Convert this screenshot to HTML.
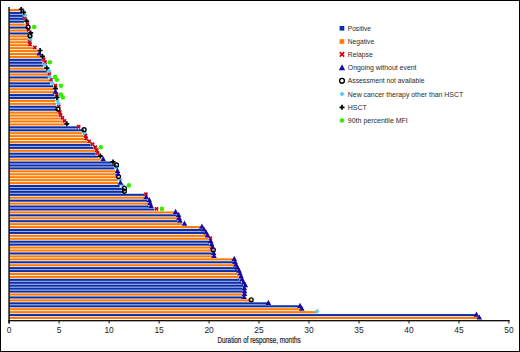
<!DOCTYPE html>
<html><head><meta charset="utf-8"><style>
html,body{margin:0;padding:0;background:#fff;}
svg{display:block;font-family:"Liberation Sans",sans-serif;}
</style></head><body>
<svg width="520" height="352" viewBox="0 0 520 352">
<rect x="0" y="0" width="520" height="352" fill="#fff"/>
<rect x="9.0" y="316.07" width="466.8" height="0.93" fill="#f3e2d8"/>
<rect x="9.0" y="313.13" width="307.0" height="0.93" fill="#f3e2d8"/>
<rect x="9.0" y="310.20" width="291.5" height="0.93" fill="#fff4ea"/>
<rect x="9.0" y="307.27" width="289.5" height="0.93" fill="#f3e2d8"/>
<rect x="9.0" y="304.33" width="258.5" height="0.93" fill="#a0b4eb"/>
<rect x="9.0" y="301.40" width="240.2" height="0.93" fill="#f3e2d8"/>
<rect x="9.0" y="298.47" width="233.0" height="0.93" fill="#f3e2d8"/>
<rect x="9.0" y="295.53" width="233.0" height="0.93" fill="#f3e2d8"/>
<rect x="9.0" y="292.60" width="233.3" height="0.93" fill="#f3e2d8"/>
<rect x="9.0" y="289.67" width="233.3" height="0.93" fill="#a0b4eb"/>
<rect x="9.0" y="286.73" width="233.3" height="0.93" fill="#a0b4eb"/>
<rect x="9.0" y="283.80" width="232.0" height="0.93" fill="#a0b4eb"/>
<rect x="9.0" y="280.87" width="230.5" height="0.93" fill="#a0b4eb"/>
<rect x="9.0" y="277.93" width="229.5" height="0.93" fill="#f3e2d8"/>
<rect x="9.0" y="275.00" width="228.7" height="0.93" fill="#fff4ea"/>
<rect x="9.0" y="272.07" width="228.0" height="0.93" fill="#f3e2d8"/>
<rect x="9.0" y="269.13" width="227.0" height="0.93" fill="#a0b4eb"/>
<rect x="9.0" y="266.20" width="225.7" height="0.93" fill="#f3e2d8"/>
<rect x="9.0" y="263.27" width="224.0" height="0.93" fill="#f3e2d8"/>
<rect x="9.0" y="260.33" width="224.0" height="0.93" fill="#f3e2d8"/>
<rect x="9.0" y="257.40" width="203.0" height="0.93" fill="#fff4ea"/>
<rect x="9.0" y="254.47" width="202.6" height="0.93" fill="#f3e2d8"/>
<rect x="9.0" y="251.53" width="202.6" height="0.93" fill="#f3e2d8"/>
<rect x="9.0" y="248.60" width="202.0" height="0.93" fill="#fff4ea"/>
<rect x="9.0" y="245.67" width="200.0" height="0.93" fill="#f3e2d8"/>
<rect x="9.0" y="242.73" width="200.0" height="0.93" fill="#a0b4eb"/>
<rect x="9.0" y="239.80" width="199.0" height="0.93" fill="#f3e2d8"/>
<rect x="9.0" y="236.87" width="197.0" height="0.93" fill="#fff4ea"/>
<rect x="9.0" y="233.93" width="195.0" height="0.93" fill="#f3e2d8"/>
<rect x="9.0" y="231.00" width="192.9" height="0.93" fill="#a0b4eb"/>
<rect x="9.0" y="228.07" width="191.2" height="0.93" fill="#f3e2d8"/>
<rect x="9.0" y="225.13" width="173.3" height="0.93" fill="#fff4ea"/>
<rect x="9.0" y="222.20" width="168.6" height="0.93" fill="#f3e2d8"/>
<rect x="9.0" y="219.27" width="168.3" height="0.93" fill="#f3e2d8"/>
<rect x="9.0" y="216.33" width="167.6" height="0.93" fill="#f3e2d8"/>
<rect x="9.0" y="213.40" width="164.9" height="0.93" fill="#f3e2d8"/>
<rect x="9.0" y="210.47" width="145.4" height="0.93" fill="#f3e2d8"/>
<rect x="9.0" y="207.53" width="139.6" height="0.93" fill="#a0b4eb"/>
<rect x="9.0" y="204.60" width="139.3" height="0.93" fill="#f3e2d8"/>
<rect x="9.0" y="201.67" width="138.0" height="0.93" fill="#f3e2d8"/>
<rect x="9.0" y="198.73" width="135.2" height="0.93" fill="#f3e2d8"/>
<rect x="9.0" y="195.80" width="135.2" height="0.93" fill="#f3e2d8"/>
<rect x="9.0" y="192.87" width="112.7" height="0.93" fill="#a0b4eb"/>
<rect x="9.0" y="189.93" width="112.0" height="0.93" fill="#a0b4eb"/>
<rect x="9.0" y="187.00" width="110.7" height="0.93" fill="#a0b4eb"/>
<rect x="9.0" y="184.07" width="109.3" height="0.93" fill="#f3e2d8"/>
<rect x="9.0" y="181.13" width="109.0" height="0.93" fill="#fff4ea"/>
<rect x="9.0" y="178.20" width="107.5" height="0.93" fill="#fff4ea"/>
<rect x="9.0" y="175.27" width="107.0" height="0.93" fill="#fff4ea"/>
<rect x="9.0" y="172.33" width="106.1" height="0.93" fill="#fff4ea"/>
<rect x="9.0" y="169.40" width="105.4" height="0.93" fill="#f3e2d8"/>
<rect x="9.0" y="166.47" width="104.7" height="0.93" fill="#a0b4eb"/>
<rect x="9.0" y="163.53" width="102.7" height="0.93" fill="#a0b4eb"/>
<rect x="9.0" y="160.60" width="91.4" height="0.93" fill="#f3e2d8"/>
<rect x="9.0" y="157.67" width="89.4" height="0.93" fill="#f3e2d8"/>
<rect x="9.0" y="154.73" width="86.7" height="0.93" fill="#a0b4eb"/>
<rect x="9.0" y="151.80" width="85.7" height="0.93" fill="#f3e2d8"/>
<rect x="9.0" y="148.87" width="84.3" height="0.93" fill="#f3e2d8"/>
<rect x="9.0" y="145.93" width="81.5" height="0.93" fill="#a0b4eb"/>
<rect x="9.0" y="143.00" width="78.2" height="0.93" fill="#f3e2d8"/>
<rect x="9.0" y="140.07" width="75.1" height="0.93" fill="#fff4ea"/>
<rect x="9.0" y="137.13" width="74.4" height="0.93" fill="#fff4ea"/>
<rect x="9.0" y="134.20" width="73.4" height="0.93" fill="#fff4ea"/>
<rect x="9.0" y="131.27" width="72.7" height="0.93" fill="#f3e2d8"/>
<rect x="9.0" y="128.33" width="68.3" height="0.93" fill="#a0b4eb"/>
<rect x="9.0" y="125.40" width="55.8" height="0.93" fill="#f3e2d8"/>
<rect x="9.0" y="122.47" width="53.4" height="0.93" fill="#fff4ea"/>
<rect x="9.0" y="119.53" width="51.4" height="0.93" fill="#fff4ea"/>
<rect x="9.0" y="116.60" width="49.5" height="0.93" fill="#fff4ea"/>
<rect x="9.0" y="113.67" width="49.0" height="0.93" fill="#fff4ea"/>
<rect x="9.0" y="110.73" width="47.4" height="0.93" fill="#f3e2d8"/>
<rect x="9.0" y="107.80" width="47.4" height="0.93" fill="#a0b4eb"/>
<rect x="9.0" y="104.87" width="47.0" height="0.93" fill="#f3e2d8"/>
<rect x="9.0" y="101.93" width="46.3" height="0.93" fill="#fff4ea"/>
<rect x="9.0" y="99.00" width="46.0" height="0.93" fill="#f3e2d8"/>
<rect x="9.0" y="96.07" width="45.3" height="0.93" fill="#a0b4eb"/>
<rect x="9.0" y="93.13" width="44.4" height="0.93" fill="#f3e2d8"/>
<rect x="9.0" y="90.20" width="44.0" height="0.93" fill="#fff4ea"/>
<rect x="9.0" y="87.27" width="44.0" height="0.93" fill="#f3e2d8"/>
<rect x="9.0" y="84.33" width="41.0" height="0.93" fill="#a0b4eb"/>
<rect x="9.0" y="81.40" width="40.0" height="0.93" fill="#f3e2d8"/>
<rect x="9.0" y="78.47" width="39.0" height="0.93" fill="#f3e2d8"/>
<rect x="9.0" y="75.53" width="38.6" height="0.93" fill="#f3e2d8"/>
<rect x="9.0" y="72.60" width="37.8" height="0.93" fill="#f3e2d8"/>
<rect x="9.0" y="69.67" width="35.8" height="0.93" fill="#f3e2d8"/>
<rect x="9.0" y="66.73" width="34.0" height="0.93" fill="#f3e2d8"/>
<rect x="9.0" y="63.80" width="33.4" height="0.93" fill="#a0b4eb"/>
<rect x="9.0" y="60.87" width="32.7" height="0.93" fill="#a0b4eb"/>
<rect x="9.0" y="57.93" width="31.7" height="0.93" fill="#f3e2d8"/>
<rect x="9.0" y="55.00" width="29.3" height="0.93" fill="#fff4ea"/>
<rect x="9.0" y="52.07" width="29.3" height="0.93" fill="#fff4ea"/>
<rect x="9.0" y="49.13" width="24.0" height="0.93" fill="#fff4ea"/>
<rect x="9.0" y="46.20" width="19.6" height="0.93" fill="#fff4ea"/>
<rect x="9.0" y="43.27" width="19.3" height="0.93" fill="#fff4ea"/>
<rect x="9.0" y="40.33" width="19.3" height="0.93" fill="#fff4ea"/>
<rect x="9.0" y="37.40" width="19.0" height="0.93" fill="#fff4ea"/>
<rect x="9.0" y="34.47" width="19.0" height="0.93" fill="#f3e2d8"/>
<rect x="9.0" y="31.53" width="17.6" height="0.93" fill="#f3e2d8"/>
<rect x="9.0" y="28.60" width="16.7" height="0.93" fill="#f3e2d8"/>
<rect x="9.0" y="25.67" width="15.7" height="0.93" fill="#f3e2d8"/>
<rect x="9.0" y="22.73" width="15.0" height="0.93" fill="#f3e2d8"/>
<rect x="9.0" y="19.80" width="14.3" height="0.93" fill="#a0b4eb"/>
<rect x="9.0" y="16.87" width="14.0" height="0.93" fill="#a0b4eb"/>
<rect x="9.0" y="13.93" width="12.9" height="0.93" fill="#a0b4eb"/>
<rect x="9.0" y="11.00" width="10.2" height="0.93" fill="#f3e2d8"/>
<rect x="9.0" y="9.00" width="10.2" height="2.0" fill="#ff7a00"/>
<rect x="9.0" y="11.93" width="12.9" height="2.0" fill="#0a2ea8"/>
<rect x="9.0" y="14.87" width="14.0" height="2.0" fill="#0a2ea8"/>
<rect x="9.0" y="17.80" width="14.3" height="2.0" fill="#0a2ea8"/>
<rect x="9.0" y="20.73" width="15.0" height="2.0" fill="#0a2ea8"/>
<rect x="9.0" y="23.67" width="15.7" height="2.0" fill="#ff7a00"/>
<rect x="9.0" y="26.60" width="19.1" height="2.0" fill="#0a2ea8"/>
<rect x="9.0" y="29.53" width="17.6" height="2.0" fill="#ff7a00"/>
<rect x="9.0" y="32.47" width="19.0" height="2.0" fill="#0a2ea8"/>
<rect x="9.0" y="35.40" width="21.0" height="2.0" fill="#ff7a00"/>
<rect x="9.0" y="38.33" width="19.3" height="2.0" fill="#ff7a00"/>
<rect x="9.0" y="41.27" width="19.3" height="2.0" fill="#ff7a00"/>
<rect x="9.0" y="44.20" width="19.6" height="2.0" fill="#ff7a00"/>
<rect x="9.0" y="47.13" width="24.0" height="2.0" fill="#ff7a00"/>
<rect x="9.0" y="50.07" width="29.4" height="2.0" fill="#ff7a00"/>
<rect x="9.0" y="53.00" width="29.3" height="2.0" fill="#ff7a00"/>
<rect x="9.0" y="55.93" width="31.7" height="2.0" fill="#ff7a00"/>
<rect x="9.0" y="58.87" width="32.7" height="2.0" fill="#0a2ea8"/>
<rect x="9.0" y="61.80" width="33.4" height="2.0" fill="#0a2ea8"/>
<rect x="9.0" y="64.73" width="34.0" height="2.0" fill="#0a2ea8"/>
<rect x="9.0" y="67.67" width="35.8" height="2.0" fill="#ff7a00"/>
<rect x="9.0" y="70.60" width="37.8" height="2.0" fill="#0a2ea8"/>
<rect x="9.0" y="73.53" width="38.6" height="2.0" fill="#ff7a00"/>
<rect x="9.0" y="76.47" width="39.0" height="2.0" fill="#0a2ea8"/>
<rect x="9.0" y="79.40" width="40.0" height="2.0" fill="#ff7a00"/>
<rect x="9.0" y="82.33" width="41.0" height="2.0" fill="#0a2ea8"/>
<rect x="9.0" y="85.27" width="44.0" height="2.0" fill="#0a2ea8"/>
<rect x="9.0" y="88.20" width="44.0" height="2.0" fill="#ff7a00"/>
<rect x="9.0" y="91.13" width="44.4" height="2.0" fill="#ff7a00"/>
<rect x="9.0" y="94.07" width="45.3" height="2.0" fill="#0a2ea8"/>
<rect x="9.0" y="97.00" width="46.0" height="2.0" fill="#0a2ea8"/>
<rect x="9.0" y="99.93" width="46.3" height="2.0" fill="#ff7a00"/>
<rect x="9.0" y="102.87" width="47.0" height="2.0" fill="#ff7a00"/>
<rect x="9.0" y="105.80" width="47.4" height="2.0" fill="#0a2ea8"/>
<rect x="9.0" y="108.73" width="49.0" height="2.0" fill="#0a2ea8"/>
<rect x="9.0" y="111.67" width="49.0" height="2.0" fill="#ff7a00"/>
<rect x="9.0" y="114.60" width="49.5" height="2.0" fill="#ff7a00"/>
<rect x="9.0" y="117.53" width="51.4" height="2.0" fill="#ff7a00"/>
<rect x="9.0" y="120.47" width="53.4" height="2.0" fill="#ff7a00"/>
<rect x="9.0" y="123.40" width="55.8" height="2.0" fill="#ff7a00"/>
<rect x="9.0" y="126.33" width="68.3" height="2.0" fill="#0a2ea8"/>
<rect x="9.0" y="129.27" width="75.1" height="2.0" fill="#0a2ea8"/>
<rect x="9.0" y="132.20" width="73.4" height="2.0" fill="#ff7a00"/>
<rect x="9.0" y="135.13" width="74.4" height="2.0" fill="#ff7a00"/>
<rect x="9.0" y="138.07" width="75.1" height="2.0" fill="#ff7a00"/>
<rect x="9.0" y="141.00" width="78.2" height="2.0" fill="#ff7a00"/>
<rect x="9.0" y="143.93" width="81.5" height="2.0" fill="#0a2ea8"/>
<rect x="9.0" y="146.87" width="84.3" height="2.0" fill="#0a2ea8"/>
<rect x="9.0" y="149.80" width="85.7" height="2.0" fill="#ff7a00"/>
<rect x="9.0" y="152.73" width="86.7" height="2.0" fill="#0a2ea8"/>
<rect x="9.0" y="155.67" width="89.4" height="2.0" fill="#0a2ea8"/>
<rect x="9.0" y="158.60" width="91.4" height="2.0" fill="#ff7a00"/>
<rect x="9.0" y="161.53" width="102.7" height="2.0" fill="#0a2ea8"/>
<rect x="9.0" y="164.47" width="107.5" height="2.0" fill="#0a2ea8"/>
<rect x="9.0" y="167.40" width="105.4" height="2.0" fill="#0a2ea8"/>
<rect x="9.0" y="170.33" width="106.1" height="2.0" fill="#ff7a00"/>
<rect x="9.0" y="173.27" width="107.0" height="2.0" fill="#ff7a00"/>
<rect x="9.0" y="176.20" width="109.5" height="2.0" fill="#ff7a00"/>
<rect x="9.0" y="179.13" width="109.0" height="2.0" fill="#ff7a00"/>
<rect x="9.0" y="182.07" width="109.3" height="2.0" fill="#ff7a00"/>
<rect x="9.0" y="185.00" width="110.7" height="2.0" fill="#0a2ea8"/>
<rect x="9.0" y="187.93" width="115.4" height="2.0" fill="#0a2ea8"/>
<rect x="9.0" y="190.87" width="115.4" height="2.0" fill="#0a2ea8"/>
<rect x="9.0" y="193.80" width="135.2" height="2.0" fill="#0a2ea8"/>
<rect x="9.0" y="196.73" width="135.2" height="2.0" fill="#ff7a00"/>
<rect x="9.0" y="199.67" width="138.0" height="2.0" fill="#0a2ea8"/>
<rect x="9.0" y="202.60" width="139.3" height="2.0" fill="#ff7a00"/>
<rect x="9.0" y="205.53" width="139.6" height="2.0" fill="#0a2ea8"/>
<rect x="9.0" y="208.47" width="145.4" height="2.0" fill="#0a2ea8"/>
<rect x="9.0" y="211.40" width="164.9" height="2.0" fill="#ff7a00"/>
<rect x="9.0" y="214.33" width="167.6" height="2.0" fill="#0a2ea8"/>
<rect x="9.0" y="217.27" width="168.3" height="2.0" fill="#ff7a00"/>
<rect x="9.0" y="220.20" width="168.6" height="2.0" fill="#0a2ea8"/>
<rect x="9.0" y="223.13" width="173.3" height="2.0" fill="#ff7a00"/>
<rect x="9.0" y="226.07" width="191.2" height="2.0" fill="#ff7a00"/>
<rect x="9.0" y="229.00" width="192.9" height="2.0" fill="#0a2ea8"/>
<rect x="9.0" y="231.93" width="195.0" height="2.0" fill="#0a2ea8"/>
<rect x="9.0" y="234.87" width="197.0" height="2.0" fill="#ff7a00"/>
<rect x="9.0" y="237.80" width="199.0" height="2.0" fill="#ff7a00"/>
<rect x="9.0" y="240.73" width="200.0" height="2.0" fill="#0a2ea8"/>
<rect x="9.0" y="243.67" width="200.0" height="2.0" fill="#0a2ea8"/>
<rect x="9.0" y="246.60" width="202.0" height="2.0" fill="#ff7a00"/>
<rect x="9.0" y="249.53" width="204.3" height="2.0" fill="#ff7a00"/>
<rect x="9.0" y="252.47" width="202.6" height="2.0" fill="#0a2ea8"/>
<rect x="9.0" y="255.40" width="203.0" height="2.0" fill="#ff7a00"/>
<rect x="9.0" y="258.33" width="224.0" height="2.0" fill="#ff7a00"/>
<rect x="9.0" y="261.27" width="224.0" height="2.0" fill="#0a2ea8"/>
<rect x="9.0" y="264.20" width="225.7" height="2.0" fill="#ff7a00"/>
<rect x="9.0" y="267.13" width="227.0" height="2.0" fill="#0a2ea8"/>
<rect x="9.0" y="270.07" width="228.0" height="2.0" fill="#0a2ea8"/>
<rect x="9.0" y="273.00" width="228.7" height="2.0" fill="#ff7a00"/>
<rect x="9.0" y="275.93" width="229.5" height="2.0" fill="#ff7a00"/>
<rect x="9.0" y="278.87" width="230.5" height="2.0" fill="#0a2ea8"/>
<rect x="9.0" y="281.80" width="232.0" height="2.0" fill="#0a2ea8"/>
<rect x="9.0" y="284.73" width="234.0" height="2.0" fill="#0a2ea8"/>
<rect x="9.0" y="287.67" width="233.3" height="2.0" fill="#0a2ea8"/>
<rect x="9.0" y="290.60" width="233.5" height="2.0" fill="#0a2ea8"/>
<rect x="9.0" y="293.53" width="233.3" height="2.0" fill="#ff7a00"/>
<rect x="9.0" y="296.47" width="233.0" height="2.0" fill="#0a2ea8"/>
<rect x="9.0" y="299.40" width="242.2" height="2.0" fill="#ff7a00"/>
<rect x="9.0" y="302.33" width="258.5" height="2.0" fill="#0a2ea8"/>
<rect x="9.0" y="305.27" width="289.5" height="2.0" fill="#0a2ea8"/>
<rect x="9.0" y="308.20" width="291.5" height="2.0" fill="#ff7a00"/>
<rect x="9.0" y="311.13" width="307.0" height="2.0" fill="#ff7a00"/>
<rect x="9.0" y="314.07" width="466.8" height="2.0" fill="#0a2ea8"/>
<rect x="9.0" y="317.00" width="469.6" height="2.0" fill="#ff7a00"/>
<path d="M23.1 16.6l3.2 3.2M26.3 16.6l-3.2 3.2" stroke="#cc0012" stroke-width="1.7" fill="none"/>
<path d="M25.8 22.5l3.2 3.2M29.0 22.5l-3.2 3.2" stroke="#cc0012" stroke-width="1.7" fill="none"/>
<path d="M26.7 28.3l3.2 3.2M29.9 28.3l-3.2 3.2" stroke="#cc0012" stroke-width="1.7" fill="none"/>
<path d="M28.1 40.1l3.2 3.2M31.3 40.1l-3.2 3.2" stroke="#cc0012" stroke-width="1.7" fill="none"/>
<path d="M28.4 43.0l3.2 3.2M31.6 43.0l-3.2 3.2" stroke="#cc0012" stroke-width="1.7" fill="none"/>
<path d="M33.2 45.9l3.2 3.2M36.4 45.9l-3.2 3.2" stroke="#cc0012" stroke-width="1.7" fill="none"/>
<path d="M42.1 57.7l3.2 3.2M45.3 57.7l-3.2 3.2" stroke="#cc0012" stroke-width="1.7" fill="none"/>
<path d="M43.5 60.6l3.2 3.2M46.7 60.6l-3.2 3.2" stroke="#cc0012" stroke-width="1.7" fill="none"/>
<path d="M47.7 72.3l3.2 3.2M50.9 72.3l-3.2 3.2" stroke="#cc0012" stroke-width="1.7" fill="none"/>
<path d="M49.4 78.2l3.2 3.2M52.6 78.2l-3.2 3.2" stroke="#cc0012" stroke-width="1.7" fill="none"/>
<path d="M53.8 84.1l3.2 3.2M57.0 84.1l-3.2 3.2" stroke="#cc0012" stroke-width="1.7" fill="none"/>
<path d="M55.1 92.9l3.2 3.2M58.3 92.9l-3.2 3.2" stroke="#cc0012" stroke-width="1.7" fill="none"/>
<path d="M57.1 104.6l3.2 3.2M60.3 104.6l-3.2 3.2" stroke="#cc0012" stroke-width="1.7" fill="none"/>
<path d="M58.2 110.5l3.2 3.2M61.4 110.5l-3.2 3.2" stroke="#cc0012" stroke-width="1.7" fill="none"/>
<path d="M58.9 113.4l3.2 3.2M62.1 113.4l-3.2 3.2" stroke="#cc0012" stroke-width="1.7" fill="none"/>
<path d="M60.8 116.3l3.2 3.2M64.0 116.3l-3.2 3.2" stroke="#cc0012" stroke-width="1.7" fill="none"/>
<path d="M62.8 119.3l3.2 3.2M66.0 119.3l-3.2 3.2" stroke="#cc0012" stroke-width="1.7" fill="none"/>
<path d="M77.0 125.1l3.2 3.2M80.2 125.1l-3.2 3.2" stroke="#cc0012" stroke-width="1.7" fill="none"/>
<path d="M83.8 133.9l3.2 3.2M87.0 133.9l-3.2 3.2" stroke="#cc0012" stroke-width="1.7" fill="none"/>
<path d="M84.5 136.9l3.2 3.2M87.7 136.9l-3.2 3.2" stroke="#cc0012" stroke-width="1.7" fill="none"/>
<path d="M87.6 139.8l3.2 3.2M90.8 139.8l-3.2 3.2" stroke="#cc0012" stroke-width="1.7" fill="none"/>
<path d="M90.9 142.7l3.2 3.2M94.1 142.7l-3.2 3.2" stroke="#cc0012" stroke-width="1.7" fill="none"/>
<path d="M93.7 145.7l3.2 3.2M96.9 145.7l-3.2 3.2" stroke="#cc0012" stroke-width="1.7" fill="none"/>
<path d="M95.1 148.6l3.2 3.2M98.3 148.6l-3.2 3.2" stroke="#cc0012" stroke-width="1.7" fill="none"/>
<path d="M96.1 151.5l3.2 3.2M99.3 151.5l-3.2 3.2" stroke="#cc0012" stroke-width="1.7" fill="none"/>
<path d="M144.3 192.6l3.2 3.2M147.5 192.6l-3.2 3.2" stroke="#cc0012" stroke-width="1.7" fill="none"/>
<path d="M155.0 207.3l3.2 3.2M158.2 207.3l-3.2 3.2" stroke="#cc0012" stroke-width="1.7" fill="none"/>
<path d="M208.7 236.6l3.2 3.2M211.9 236.6l-3.2 3.2" stroke="#cc0012" stroke-width="1.7" fill="none"/>
<path d="M25.0 12.8l2.5 2.5l-2.5 2.5l-2.5 -2.5z" fill="#55ccf5"/>
<path d="M30.3 36.2l2.5 2.5l-2.5 2.5l-2.5 -2.5z" fill="#55ccf5"/>
<path d="M44.8 62.6l2.5 2.5l-2.5 2.5l-2.5 -2.5z" fill="#55ccf5"/>
<path d="M49.2 68.5l2.5 2.5l-2.5 2.5l-2.5 -2.5z" fill="#55ccf5"/>
<path d="M49.7 74.4l2.5 2.5l-2.5 2.5l-2.5 -2.5z" fill="#55ccf5"/>
<path d="M52.0 80.2l2.5 2.5l-2.5 2.5l-2.5 -2.5z" fill="#55ccf5"/>
<path d="M57.4 97.8l2.5 2.5l-2.5 2.5l-2.5 -2.5z" fill="#55ccf5"/>
<path d="M58.4 100.8l2.5 2.5l-2.5 2.5l-2.5 -2.5z" fill="#55ccf5"/>
<path d="M84.4 130.1l2.5 2.5l-2.5 2.5l-2.5 -2.5z" fill="#55ccf5"/>
<path d="M116.5 165.3l2.5 2.5l-2.5 2.5l-2.5 -2.5z" fill="#55ccf5"/>
<path d="M120.2 177.0l2.5 2.5l-2.5 2.5l-2.5 -2.5z" fill="#55ccf5"/>
<path d="M122.7 182.9l2.5 2.5l-2.5 2.5l-2.5 -2.5z" fill="#55ccf5"/>
<path d="M317.0 309.0l2.5 2.5l-2.5 2.5l-2.5 -2.5z" fill="#55ccf5"/>
<circle cx="28.1" cy="27.0" r="1.95" fill="none" stroke="#000" stroke-width="1.35"/>
<circle cx="30.0" cy="35.8" r="1.95" fill="none" stroke="#000" stroke-width="1.35"/>
<circle cx="58.0" cy="109.1" r="1.95" fill="none" stroke="#000" stroke-width="1.35"/>
<circle cx="84.1" cy="129.7" r="1.95" fill="none" stroke="#000" stroke-width="1.35"/>
<circle cx="116.5" cy="164.9" r="1.95" fill="none" stroke="#000" stroke-width="1.35"/>
<circle cx="118.5" cy="176.6" r="1.95" fill="none" stroke="#000" stroke-width="1.35"/>
<circle cx="124.4" cy="188.3" r="1.95" fill="none" stroke="#000" stroke-width="1.35"/>
<circle cx="124.4" cy="191.3" r="1.95" fill="none" stroke="#000" stroke-width="1.35"/>
<circle cx="213.3" cy="249.9" r="1.95" fill="none" stroke="#000" stroke-width="1.35"/>
<circle cx="251.2" cy="299.8" r="1.95" fill="none" stroke="#000" stroke-width="1.35"/>
<path d="M18.7 9.4h5M21.2 6.9v5" stroke="#000" stroke-width="1.7" fill="none"/>
<path d="M21.1 12.3h5M23.6 9.8v5" stroke="#000" stroke-width="1.7" fill="none"/>
<path d="M24.2 21.1h5M26.7 18.6v5" stroke="#000" stroke-width="1.7" fill="none"/>
<path d="M28.2 32.9h5M30.7 30.4v5" stroke="#000" stroke-width="1.7" fill="none"/>
<path d="M37.6 50.5h5M40.1 48.0v5" stroke="#000" stroke-width="1.7" fill="none"/>
<path d="M39.9 56.3h5M42.4 53.8v5" stroke="#000" stroke-width="1.7" fill="none"/>
<path d="M44.3 68.1h5M46.8 65.6v5" stroke="#000" stroke-width="1.7" fill="none"/>
<path d="M52.9 88.6h5M55.4 86.1v5" stroke="#000" stroke-width="1.7" fill="none"/>
<path d="M54.5 97.4h5M57.0 94.9v5" stroke="#000" stroke-width="1.7" fill="none"/>
<path d="M64.3 123.8h5M66.8 121.3v5" stroke="#000" stroke-width="1.7" fill="none"/>
<path d="M97.9 156.1h5M100.4 153.6v5" stroke="#000" stroke-width="1.7" fill="none"/>
<path d="M110.5 161.9h5M113.0 159.4v5" stroke="#000" stroke-width="1.7" fill="none"/>
<path d="M39.3 50.4l2.8 5.2h-5.6z" fill="#1a0a9c"/>
<path d="M55.4 88.5l2.8 5.2h-5.6z" fill="#1a0a9c"/>
<path d="M103.2 156.0l2.8 5.2h-5.6z" fill="#1a0a9c"/>
<path d="M117.5 167.7l2.8 5.2h-5.6z" fill="#1a0a9c"/>
<path d="M118.0 170.7l2.8 5.2h-5.6z" fill="#1a0a9c"/>
<path d="M120.4 179.5l2.8 5.2h-5.6z" fill="#1a0a9c"/>
<path d="M146.2 194.1l2.8 5.2h-5.6z" fill="#1a0a9c"/>
<path d="M149.3 197.1l2.8 5.2h-5.6z" fill="#1a0a9c"/>
<path d="M150.0 200.0l2.8 5.2h-5.6z" fill="#1a0a9c"/>
<path d="M151.0 202.9l2.8 5.2h-5.6z" fill="#1a0a9c"/>
<path d="M175.6 208.8l2.8 5.2h-5.6z" fill="#1a0a9c"/>
<path d="M178.5 211.7l2.8 5.2h-5.6z" fill="#1a0a9c"/>
<path d="M179.0 214.7l2.8 5.2h-5.6z" fill="#1a0a9c"/>
<path d="M180.0 217.6l2.8 5.2h-5.6z" fill="#1a0a9c"/>
<path d="M184.5 220.5l2.8 5.2h-5.6z" fill="#1a0a9c"/>
<path d="M201.9 223.5l2.8 5.2h-5.6z" fill="#1a0a9c"/>
<path d="M203.9 226.4l2.8 5.2h-5.6z" fill="#1a0a9c"/>
<path d="M206.0 229.3l2.8 5.2h-5.6z" fill="#1a0a9c"/>
<path d="M207.6 232.3l2.8 5.2h-5.6z" fill="#1a0a9c"/>
<path d="M210.7 238.1l2.8 5.2h-5.6z" fill="#1a0a9c"/>
<path d="M211.6 241.1l2.8 5.2h-5.6z" fill="#1a0a9c"/>
<path d="M212.5 244.0l2.8 5.2h-5.6z" fill="#1a0a9c"/>
<path d="M213.6 249.9l2.8 5.2h-5.6z" fill="#1a0a9c"/>
<path d="M214.0 252.8l2.8 5.2h-5.6z" fill="#1a0a9c"/>
<path d="M234.3 255.7l2.8 5.2h-5.6z" fill="#1a0a9c"/>
<path d="M235.0 258.7l2.8 5.2h-5.6z" fill="#1a0a9c"/>
<path d="M236.0 261.6l2.8 5.2h-5.6z" fill="#1a0a9c"/>
<path d="M237.5 264.5l2.8 5.2h-5.6z" fill="#1a0a9c"/>
<path d="M239.0 267.5l2.8 5.2h-5.6z" fill="#1a0a9c"/>
<path d="M240.0 270.4l2.8 5.2h-5.6z" fill="#1a0a9c"/>
<path d="M241.0 273.3l2.8 5.2h-5.6z" fill="#1a0a9c"/>
<path d="M242.0 276.3l2.8 5.2h-5.6z" fill="#1a0a9c"/>
<path d="M243.5 279.2l2.8 5.2h-5.6z" fill="#1a0a9c"/>
<path d="M245.3 282.1l2.8 5.2h-5.6z" fill="#1a0a9c"/>
<path d="M244.3 285.1l2.8 5.2h-5.6z" fill="#1a0a9c"/>
<path d="M244.5 288.0l2.8 5.2h-5.6z" fill="#1a0a9c"/>
<path d="M244.5 290.9l2.8 5.2h-5.6z" fill="#1a0a9c"/>
<path d="M244.0 293.9l2.8 5.2h-5.6z" fill="#1a0a9c"/>
<path d="M268.4 299.7l2.8 5.2h-5.6z" fill="#1a0a9c"/>
<path d="M300.0 302.7l2.8 5.2h-5.6z" fill="#1a0a9c"/>
<path d="M301.8 305.6l2.8 5.2h-5.6z" fill="#1a0a9c"/>
<path d="M476.4 311.5l2.8 5.2h-5.6z" fill="#1a0a9c"/>
<path d="M479.3 314.4l2.8 5.2h-5.6z" fill="#1a0a9c"/>
<circle cx="34.2" cy="27.0" r="2.3" fill="#33ee00"/>
<circle cx="49.9" cy="62.2" r="2.3" fill="#33ee00"/>
<circle cx="55.1" cy="76.9" r="2.3" fill="#33ee00"/>
<circle cx="56.8" cy="79.8" r="2.3" fill="#33ee00"/>
<circle cx="60.9" cy="85.7" r="2.3" fill="#33ee00"/>
<circle cx="61.0" cy="94.5" r="2.3" fill="#33ee00"/>
<circle cx="62.8" cy="97.4" r="2.3" fill="#33ee00"/>
<circle cx="100.8" cy="147.3" r="2.3" fill="#33ee00"/>
<circle cx="128.9" cy="185.4" r="2.3" fill="#33ee00"/>
<circle cx="161.9" cy="208.9" r="2.3" fill="#33ee00"/>
<rect x="8.3" y="7" width="1.5" height="316.5" fill="#1a1a1a"/>
<rect x="8.3" y="320" width="501.2" height="1.35" fill="#111"/>
<rect x="8.7" y="320" width="1" height="3.5" fill="#111"/>
<text x="9.2" y="333.4" font-size="8.4" text-anchor="middle" fill="#222">0</text>
<rect x="58.6" y="320" width="1" height="3.5" fill="#111"/>
<text x="59.1" y="333.4" font-size="8.4" text-anchor="middle" fill="#222">5</text>
<rect x="108.6" y="320" width="1" height="3.5" fill="#111"/>
<text x="109.1" y="333.4" font-size="8.4" text-anchor="middle" fill="#222">10</text>
<rect x="158.6" y="320" width="1" height="3.5" fill="#111"/>
<text x="159.1" y="333.4" font-size="8.4" text-anchor="middle" fill="#222">15</text>
<rect x="208.6" y="320" width="1" height="3.5" fill="#111"/>
<text x="209.1" y="333.4" font-size="8.4" text-anchor="middle" fill="#222">20</text>
<rect x="258.5" y="320" width="1" height="3.5" fill="#111"/>
<text x="259.0" y="333.4" font-size="8.4" text-anchor="middle" fill="#222">25</text>
<rect x="308.5" y="320" width="1" height="3.5" fill="#111"/>
<text x="309.0" y="333.4" font-size="8.4" text-anchor="middle" fill="#222">30</text>
<rect x="358.5" y="320" width="1" height="3.5" fill="#111"/>
<text x="359.0" y="333.4" font-size="8.4" text-anchor="middle" fill="#222">35</text>
<rect x="408.5" y="320" width="1" height="3.5" fill="#111"/>
<text x="409.0" y="333.4" font-size="8.4" text-anchor="middle" fill="#222">40</text>
<rect x="458.5" y="320" width="1" height="3.5" fill="#111"/>
<text x="459.0" y="333.4" font-size="8.4" text-anchor="middle" fill="#222">45</text>
<rect x="508.4" y="320" width="1" height="3.5" fill="#111"/>
<text x="508.9" y="333.4" font-size="8.4" text-anchor="middle" fill="#222">50</text>
<text x="217.4" y="343.2" font-size="8.6" textLength="83.2" lengthAdjust="spacingAndGlyphs" fill="#222" stroke="#222" stroke-width="0.2">Duration of response, months</text>
<rect x="339.6" y="26.0" width="4.7" height="4.6" fill="#0a2ea8"/>
<text x="347.8" y="30.6" font-size="7.8" textLength="23.1" lengthAdjust="spacingAndGlyphs" fill="#2a2a2a">Positive</text>
<rect x="339.6" y="39.2" width="4.7" height="4.6" fill="#ff7a00"/>
<text x="347.8" y="43.8" font-size="7.8" textLength="26.3" lengthAdjust="spacingAndGlyphs" fill="#2a2a2a">Negative</text>
<path d="M339.8 52.2l4.4 4.4M344.2 52.2l-4.4 4.4" stroke="#cc0012" stroke-width="1.7" fill="none"/>
<text x="347.8" y="57.0" font-size="7.8" textLength="24.9" lengthAdjust="spacingAndGlyphs" fill="#2a2a2a">Relapse</text>
<path d="M342 64.2l3.2 6h-6.4z" fill="#1a0a9c"/>
<text x="347.8" y="70.2" font-size="7.8" textLength="68.7" lengthAdjust="spacingAndGlyphs" fill="#2a2a2a">Ongoing without event</text>
<circle cx="342" cy="80.8" r="2.4" fill="none" stroke="#000" stroke-width="1.4"/>
<text x="347.8" y="83.4" font-size="7.8" textLength="76.7" lengthAdjust="spacingAndGlyphs" fill="#2a2a2a">Assessment not available</text>
<path d="M342.0 91.6l2.5 2.5l-2.5 2.5l-2.5 -2.5z" fill="#55ccf5"/>
<text x="347.8" y="96.7" font-size="7.8" textLength="115.4" lengthAdjust="spacingAndGlyphs" fill="#2a2a2a">New cancer therapy other than HSCT</text>
<path d="M339.5 107.3h5M342.0 104.8v5" stroke="#000" stroke-width="1.7" fill="none"/>
<text x="347.8" y="109.9" font-size="7.8" textLength="19.1" lengthAdjust="spacingAndGlyphs" fill="#2a2a2a">HSCT</text>
<circle cx="342.0" cy="120.5" r="2.3" fill="#33ee00"/>
<text x="347.8" y="123.1" font-size="7.8" textLength="60" lengthAdjust="spacingAndGlyphs" fill="#2a2a2a">90th percentile MFI</text>
<rect x="0.5" y="0.5" width="519" height="351" fill="none" stroke="#000" stroke-width="1"/>
</svg>
</body></html>
